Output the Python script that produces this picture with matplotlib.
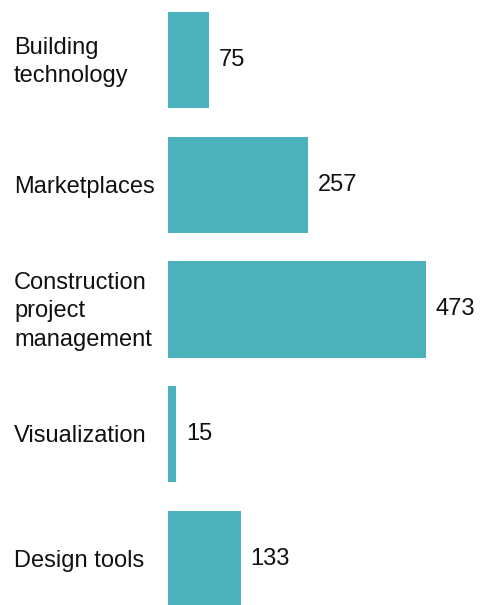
import matplotlib.pyplot as plt

categories = ["Building\ntechnology", "Marketplaces", "Construction\nproject\nmanagement",
              "Visualization", "Design tools"]
values = [75, 257, 473, 15, 133]

bar_color = "#4bb2bc"

plt.rcParams['font.family'] = ['Liberation Sans', 'DejaVu Sans']

fig = plt.figure(figsize=(4.85, 6.05), dpi=100)
# axes runs from the bar baseline to the right edge of the figure
ax = fig.add_axes([168 / 485, 0, 317 / 485, 1])

y = list(range(len(categories)))
ax.barh(y, values, height=0.77, color=bar_color)

ax.set_xlim(0, 317 / (258 / 473))
ax.set_ylim(4 + 46 / 125, -60 / 125)

for yi, v, label in zip(y, values, categories):
    ax.annotate(str(v), xy=(v, yi), xytext=(10, 0), textcoords="offset pixels",
                ha="left", va="center", fontsize=17, color="#111111")
    ax.annotate(label, xy=(0, yi), xycoords=("axes fraction", "data"),
                xytext=(14 - 168, -2), textcoords="offset pixels",
                ha="left", va="center", fontsize=17, color="#111111",
                linespacing=1.38, annotation_clip=False)

ax.axis("off")
fig.savefig("out.png", dpi=100)
